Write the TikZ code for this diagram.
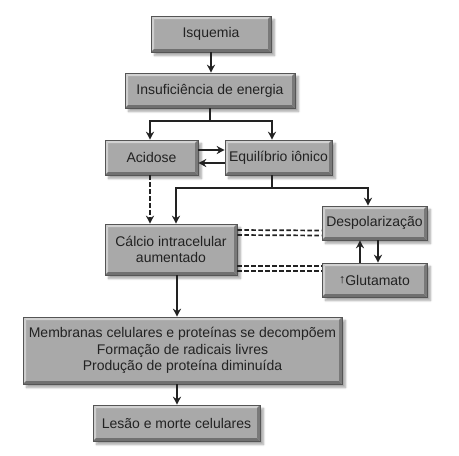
\documentclass[tikz,border=0pt]{standalone}
\usepackage{fontspec}
\setmainfont{Liberation Sans}
\usetikzlibrary{arrows.meta,calc,shadows.blur}
\definecolor{boxfill}{HTML}{A9A9A9}
\definecolor{bevlight}{HTML}{D2D2D2}
\definecolor{bevdark}{HTML}{707070}
\definecolor{boxline}{HTML}{555555}
\definecolor{ink}{HTML}{222222}
\tikzset{
  bbox/.style={draw=boxline, line width=0.6pt, fill=boxfill, inner sep=0pt, align=center,
    text=ink, font=\fontsize{14}{16.5}\selectfont,
    blur shadow={shadow xshift=3.5pt, shadow yshift=-3.5pt, shadow blur steps=6, shadow opacity=35},
    path picture={
      \fill[bevlight] (path picture bounding box.north west) -- (path picture bounding box.north east)
        -- ($(path picture bounding box.north east)+(-3pt,-3pt)$) -- ($(path picture bounding box.north west)+(3pt,-3pt)$) -- cycle;
      \fill[bevlight!90!boxfill] (path picture bounding box.north west) -- (path picture bounding box.south west)
        -- ($(path picture bounding box.south west)+(3pt,3pt)$) -- ($(path picture bounding box.north west)+(3pt,-3pt)$) -- cycle;
      \fill[bevdark] (path picture bounding box.south west) -- (path picture bounding box.south east)
        -- ($(path picture bounding box.south east)+(-3pt,3pt)$) -- ($(path picture bounding box.south west)+(3pt,3pt)$) -- cycle;
      \fill[bevdark!85!boxfill] (path picture bounding box.north east) -- (path picture bounding box.south east)
        -- ($(path picture bounding box.south east)+(-3pt,3pt)$) -- ($(path picture bounding box.north east)+(-3pt,-3pt)$) -- cycle;
    }},
  conn/.style={draw=ink, line width=1.9pt},
  arr/.style={conn, -{Stealth[length=8pt,width=8pt]}},
  dsh/.style={draw=ink, line width=1.7pt, dash pattern=on 4.5pt off 2.5pt},
  dasharr/.style={dsh, -{Stealth[length=8pt,width=8pt]}}
}
\begin{document}
\begin{tikzpicture}[x=1pt,y=-1pt]
\useasboundingbox (0,0) rectangle (459,456);
\node[bbox, minimum width=120pt, minimum height=36pt] (isq) at (211,34) {Isquemia};
\node[bbox, minimum width=170pt, minimum height=35pt] (insuf) at (210,90.5) {Insuficiência de energia};
\node[bbox, minimum width=93pt, minimum height=35pt] (acid) at (151.5,157.5) {Acidose};
\node[bbox, minimum width=107pt, minimum height=35pt] (equil) at (278.5,157.5) {Equilíbrio iônico};
\node[bbox, minimum width=132pt, minimum height=51pt] (calc) at (171,249.5) {Cálcio intracelular\\aumentado};
\node[bbox, minimum width=105pt, minimum height=34pt] (desp) at (374.5,223) {Despolarização};
\node[bbox, minimum width=105pt, minimum height=34pt] (glut) at (374.5,280) {{\fontsize{12.5}{12.5}\selectfont\raisebox{1.2pt}{↑}}Glutamato};
\node[bbox, minimum width=319pt, minimum height=67pt] (memb) at (182.5,350.5) {Membranas celulares e proteínas se decompõem\\Formação de radicais livres\\Produção de proteína diminuída};
\node[bbox, minimum width=167pt, minimum height=36pt] (les) at (176.5,423) {Lesão e morte celulares};

% Isquemia -> Insuficiencia
\draw[arr] (isq.south) -- (isq.south |- insuf.north);
% split
\coordinate (j1) at ($(insuf.south)+(0,13)$);
\coordinate (ta) at ($(acid.north)+(-1.5,0)$);
\coordinate (te) at ($(equil.north)+(-6.5,0)$);
\draw[conn] (insuf.south) -- (j1);
\draw[arr] (j1) -| (ta);
\draw[arr] (j1) -| (te);
% Acidose <-> Equilibrio
\draw[arr] ($(acid.east)+(0,-7.5)$) -- ($(equil.west)+(0,-7.5)$);
\draw[arr] ($(equil.west)+(0,5.5)$) -- ($(acid.east)+(0,5.5)$);
% Equilibrio split
\coordinate (eb) at ($(equil.south)+(-6.5,0)$);
\coordinate (j2) at ($(eb)+(0,13)$);
\coordinate (tc) at ($(calc.north)+(5,0)$);
\coordinate (td) at ($(desp.north)+(-6.5,0)$);
\draw[conn] (eb) -- (j2);
\draw[arr] (j2) -| (tc);
\draw[arr] (j2) -| (td);
% Acidose dashed -> Calcio
\draw[dasharr] (ta |- acid.south) -- (ta |- calc.north);
% double dashed links
\draw[dsh] ($(calc.east)+(0,-19.5)$) -- ($(desp.west)+(0,7.5)$);
\draw[dsh] ($(calc.east)+(0,-14.5)$) -- ($(desp.west)+(0,12.5)$);
\draw[dsh] ($(calc.east)+(0,16.5)$) -- ($(glut.west)+(0,-14)$);
\draw[dsh] ($(calc.east)+(0,21.5)$) -- ($(glut.west)+(0,-9)$);
% Despol <-> Glutamato
\draw[arr] ($(glut.north)+(-14.5,0)$) -- ($(desp.south)+(-14.5,0)$);
\draw[arr] ($(desp.south)+(3.5,0)$) -- ($(glut.north)+(3.5,0)$);
% Calcio -> Membranas -> Lesao
\coordinate (cb) at ($(calc.south)+(6,0)$);
\draw[arr] (cb) -- (cb |- memb.north);
\draw[arr] (cb |- memb.south) -- (cb |- les.north);
\end{tikzpicture}
\end{document}
